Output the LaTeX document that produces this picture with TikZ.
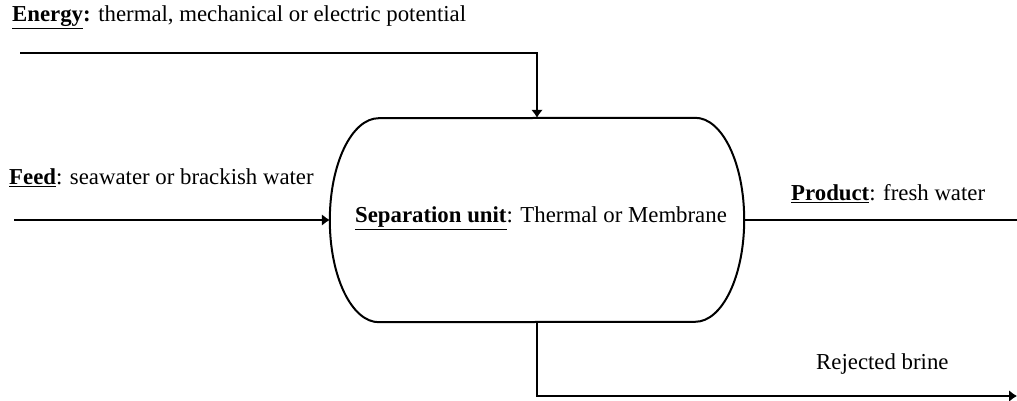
\documentclass[tikz,border=0pt]{standalone}
\usepackage{fontspec}
\setmainfont{Liberation Serif}
\usetikzlibrary{arrows.meta}
\begin{document}
\begin{tikzpicture}[x=1pt,y=1pt,
  conn/.style={line width=2pt},
  arr/.style={conn,-{Latex[length=8pt,width=12pt]}},
  lbl/.style={inner sep=0pt,font=\fontsize{22.8}{26}\selectfont},
  unit/.style={minimum width=414pt,minimum height=204pt,inner sep=0pt}]
\useasboundingbox (0,0) rectangle (1017,401);
% separation unit
\node[unit,lbl,text depth=0pt] (sep) at (537,181) {};
\node[lbl,anchor=base] (septxt) at (541,178) {\underline{\textbf{Separation unit}}: Thermal or Membrane};
\draw[conn] ([xshift=-49pt]sep.north east) arc[start angle=90,end angle=-90,x radius=49pt,y radius=102pt]
  -- ([xshift=49pt]sep.south west) arc[start angle=270,end angle=90,x radius=49pt,y radius=102pt] -- cycle;
% labels
\node[lbl,anchor=base west] (etxt) at (12,379) {\underline{\textbf{Energy}}\textbf{:} thermal, mechanical or electric potential};
\node[lbl,anchor=base west] (ftxt) at (9,216) {\underline{\textbf{Feed}}: seawater or brackish water};
\node[lbl,anchor=base west] (ptxt) at (791,200) {\underline{\textbf{Product}}: fresh water};
\node[lbl,anchor=base west] (btxt) at (816,31) {Rejected brine};
% free ends
\coordinate (ein) at (20,348);
\coordinate (fin) at (14,181);
\coordinate (pout) at (1017,181);
\coordinate (bout) at (1017,5);
% connectors
\draw[arr] (ein) -| (sep.north);
\draw[arr] (fin) -- (sep.west);
\draw[conn] (sep.east) -- (pout);
\draw[arr] (sep.south) |- (bout);
\end{tikzpicture}
\end{document}
